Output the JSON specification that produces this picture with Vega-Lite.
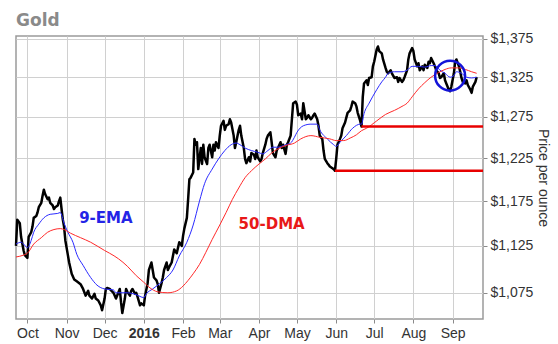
{
  "$schema": "https://vega.github.io/schema/vega-lite/v6.json",
  "width": 467,
  "height": 283,
  "autosize": {"type": "none"},
  "padding": {"left": 16, "top": 36, "right": 75, "bottom": 25},
  "background": "white",
  "title": {"text": "Gold", "anchor": "start", "fontSize": 17, "font": "DejaVu Sans", "fontWeight": "bold", "color": "#8a8a8a", "offset": 2, "dx": 2},
  "config": {
    "view": {"stroke": "#9a9a9a", "strokeWidth": 1.5},
    "axis": {"gridColor": "#d0d0d0", "gridWidth": 1, "domain": false, "tickColor": "#8a8a8a", "tickSize": 4, "labelFont": "Liberation Sans", "labelFontSize": 14, "labelColor": "#333333"}
  },
  "datasets": {
    "close": [
      {"d":"2015-09-22","p":1125},{"d":"2015-09-23","p":1154},{"d":"2015-09-25","p":1150},{"d":"2015-09-26","p":1135},{"d":"2015-09-28","p":1120},{"d":"2015-09-29","p":1115},
      {"d":"2015-10-01","p":1112},{"d":"2015-10-02","p":1135},{"d":"2015-10-04","p":1140},{"d":"2015-10-05","p":1146},{"d":"2015-10-06","p":1156},{"d":"2015-10-08","p":1158},{"d":"2015-10-09","p":1162},{"d":"2015-10-10","p":1168},{"d":"2015-10-12","p":1173},{"d":"2015-10-13","p":1181},{"d":"2015-10-14","p":1188},{"d":"2015-10-15","p":1183},{"d":"2015-10-17","p":1177},{"d":"2015-10-18","p":1179},{"d":"2015-10-19","p":1173},{"d":"2015-10-21","p":1170},{"d":"2015-10-22","p":1166},{"d":"2015-10-23","p":1168},{"d":"2015-10-25","p":1170},{"d":"2015-10-26","p":1175},{"d":"2015-10-27","p":1179},{"d":"2015-10-28","p":1166},{"d":"2015-10-29","p":1154},{"d":"2015-10-30","p":1146},{"d":"2015-10-31","p":1131},
      {"d":"2015-11-02","p":1115},{"d":"2015-11-03","p":1107},{"d":"2015-11-05","p":1095},{"d":"2015-11-07","p":1089},{"d":"2015-11-09","p":1087},{"d":"2015-11-12","p":1084},{"d":"2015-11-14","p":1079},{"d":"2015-11-16","p":1072},{"d":"2015-11-18","p":1077},{"d":"2015-11-19","p":1072},{"d":"2015-11-21","p":1069},{"d":"2015-11-23","p":1074},{"d":"2015-11-24","p":1069},{"d":"2015-11-26","p":1067},{"d":"2015-11-28","p":1062},{"d":"2015-11-29","p":1057},
      {"d":"2015-12-01","p":1069},{"d":"2015-12-02","p":1079},{"d":"2015-12-03","p":1080},{"d":"2015-12-05","p":1079},{"d":"2015-12-08","p":1075},{"d":"2015-12-10","p":1069},{"d":"2015-12-13","p":1079},{"d":"2015-12-14","p":1065},{"d":"2015-12-15","p":1054},{"d":"2015-12-17","p":1069},{"d":"2015-12-18","p":1079},{"d":"2015-12-19","p":1076},{"d":"2015-12-21","p":1072},{"d":"2015-12-22","p":1077},{"d":"2015-12-23","p":1079},{"d":"2015-12-25","p":1074},{"d":"2015-12-26","p":1075},{"d":"2015-12-27","p":1071},{"d":"2015-12-29","p":1062},{"d":"2015-12-30","p":1064},
      {"d":"2016-01-01","p":1062},{"d":"2016-01-02","p":1072},{"d":"2016-01-04","p":1085},{"d":"2016-01-05","p":1099},{"d":"2016-01-07","p":1107},{"d":"2016-01-08","p":1099},{"d":"2016-01-09","p":1091},{"d":"2016-01-11","p":1088},{"d":"2016-01-12","p":1084},{"d":"2016-01-13","p":1075},{"d":"2016-01-15","p":1085},{"d":"2016-01-16","p":1091},{"d":"2016-01-17","p":1099},{"d":"2016-01-19","p":1107},{"d":"2016-01-20","p":1099},{"d":"2016-01-21","p":1102},{"d":"2016-01-23","p":1107},{"d":"2016-01-24","p":1114},{"d":"2016-01-25","p":1121},{"d":"2016-01-27","p":1117},{"d":"2016-01-28","p":1123},{"d":"2016-01-29","p":1129},{"d":"2016-01-31","p":1125},
      {"d":"2016-02-01","p":1136},{"d":"2016-02-02","p":1144},{"d":"2016-02-04","p":1156},{"d":"2016-02-05","p":1177},{"d":"2016-02-06","p":1200},{"d":"2016-02-07","p":1202},{"d":"2016-02-09","p":1208},{"d":"2016-02-10","p":1248},{"d":"2016-02-11","p":1241},{"d":"2016-02-12","p":1244},{"d":"2016-02-13","p":1212},{"d":"2016-02-15","p":1237},{"d":"2016-02-16","p":1218},{"d":"2016-02-17","p":1241},{"d":"2016-02-18","p":1226},{"d":"2016-02-20","p":1218},{"d":"2016-02-21","p":1237},{"d":"2016-02-22","p":1241},{"d":"2016-02-24","p":1226},{"d":"2016-02-25","p":1241},{"d":"2016-02-26","p":1234},{"d":"2016-02-27","p":1244},{"d":"2016-02-29","p":1237},
      {"d":"2016-03-01","p":1252},{"d":"2016-03-02","p":1264},{"d":"2016-03-04","p":1270},{"d":"2016-03-05","p":1259},{"d":"2016-03-06","p":1264},{"d":"2016-03-08","p":1266},{"d":"2016-03-09","p":1272},{"d":"2016-03-10","p":1268},{"d":"2016-03-12","p":1252},{"d":"2016-03-13","p":1237},{"d":"2016-03-14","p":1244},{"d":"2016-03-16","p":1259},{"d":"2016-03-17","p":1264},{"d":"2016-03-18","p":1252},{"d":"2016-03-20","p":1237},{"d":"2016-03-21","p":1224},{"d":"2016-03-22","p":1219},{"d":"2016-03-24","p":1226},{"d":"2016-03-25","p":1221},{"d":"2016-03-26","p":1231},{"d":"2016-03-28","p":1229},{"d":"2016-03-29","p":1224},{"d":"2016-03-30","p":1234},{"d":"2016-03-31","p":1226},
      {"d":"2016-04-02","p":1221},{"d":"2016-04-03","p":1224},{"d":"2016-04-04","p":1231},{"d":"2016-04-06","p":1241},{"d":"2016-04-07","p":1248},{"d":"2016-04-08","p":1252},{"d":"2016-04-10","p":1256},{"d":"2016-04-11","p":1244},{"d":"2016-04-12","p":1231},{"d":"2016-04-14","p":1226},{"d":"2016-04-15","p":1234},{"d":"2016-04-16","p":1237},{"d":"2016-04-18","p":1244},{"d":"2016-04-19","p":1237},{"d":"2016-04-20","p":1241},{"d":"2016-04-22","p":1230},{"d":"2016-04-23","p":1241},{"d":"2016-04-24","p":1244},{"d":"2016-04-26","p":1252},{"d":"2016-04-27","p":1272},{"d":"2016-04-28","p":1292},{"d":"2016-04-30","p":1294},
      {"d":"2016-05-01","p":1290},{"d":"2016-05-02","p":1277},{"d":"2016-05-04","p":1279},{"d":"2016-05-05","p":1272},{"d":"2016-05-06","p":1292},{"d":"2016-05-08","p":1272},{"d":"2016-05-09","p":1274},{"d":"2016-05-10","p":1277},{"d":"2016-05-12","p":1272},{"d":"2016-05-13","p":1274},{"d":"2016-05-14","p":1277},{"d":"2016-05-15","p":1279},{"d":"2016-05-17","p":1272},{"d":"2016-05-18","p":1264},{"d":"2016-05-19","p":1252},{"d":"2016-05-21","p":1248},{"d":"2016-05-22","p":1234},{"d":"2016-05-23","p":1224},{"d":"2016-05-25","p":1219},{"d":"2016-05-26","p":1217},{"d":"2016-05-27","p":1215},{"d":"2016-05-29","p":1213},{"d":"2016-05-30","p":1212},{"d":"2016-05-31","p":1210},
      {"d":"2016-06-01","p":1224},{"d":"2016-06-02","p":1241},{"d":"2016-06-04","p":1248},{"d":"2016-06-05","p":1252},{"d":"2016-06-06","p":1261},{"d":"2016-06-08","p":1268},{"d":"2016-06-09","p":1274},{"d":"2016-06-10","p":1280},{"d":"2016-06-12","p":1283},{"d":"2016-06-13","p":1288},{"d":"2016-06-14","p":1294},{"d":"2016-06-16","p":1292},{"d":"2016-06-17","p":1288},{"d":"2016-06-18","p":1280},{"d":"2016-06-20","p":1270},{"d":"2016-06-21","p":1263},{"d":"2016-06-22","p":1300},{"d":"2016-06-23","p":1317},{"d":"2016-06-25","p":1321},{"d":"2016-06-26","p":1315},{"d":"2016-06-27","p":1324},{"d":"2016-06-29","p":1325},{"d":"2016-06-30","p":1339},
      {"d":"2016-07-01","p":1345},{"d":"2016-07-03","p":1361},{"d":"2016-07-04","p":1365},{"d":"2016-07-05","p":1359},{"d":"2016-07-07","p":1356},{"d":"2016-07-08","p":1348},{"d":"2016-07-10","p":1337},{"d":"2016-07-11","p":1332},{"d":"2016-07-12","p":1330},{"d":"2016-07-14","p":1334},{"d":"2016-07-15","p":1330},{"d":"2016-07-16","p":1327},{"d":"2016-07-17","p":1324},{"d":"2016-07-19","p":1325},{"d":"2016-07-20","p":1319},{"d":"2016-07-21","p":1324},{"d":"2016-07-23","p":1319},{"d":"2016-07-24","p":1321},{"d":"2016-07-25","p":1325},{"d":"2016-07-27","p":1334},{"d":"2016-07-28","p":1348},{"d":"2016-07-29","p":1356},{"d":"2016-07-31","p":1363},
      {"d":"2016-08-01","p":1359},{"d":"2016-08-02","p":1348},{"d":"2016-08-04","p":1339},{"d":"2016-08-05","p":1343},{"d":"2016-08-06","p":1334},{"d":"2016-08-08","p":1339},{"d":"2016-08-09","p":1334},{"d":"2016-08-10","p":1341},{"d":"2016-08-12","p":1337},{"d":"2016-08-13","p":1345},{"d":"2016-08-14","p":1343},{"d":"2016-08-15","p":1350},{"d":"2016-08-17","p":1343},{"d":"2016-08-18","p":1339},{"d":"2016-08-19","p":1334},{"d":"2016-08-21","p":1330},{"d":"2016-08-22","p":1324},{"d":"2016-08-23","p":1325},{"d":"2016-08-25","p":1330},{"d":"2016-08-26","p":1321},{"d":"2016-08-27","p":1317},{"d":"2016-08-29","p":1309},{"d":"2016-08-30","p":1307},{"d":"2016-08-31","p":1313},
      {"d":"2016-09-02","p":1330},{"d":"2016-09-03","p":1345},{"d":"2016-09-04","p":1348},{"d":"2016-09-06","p":1339},{"d":"2016-09-07","p":1332},{"d":"2016-09-08","p":1324},{"d":"2016-09-09","p":1319},{"d":"2016-09-11","p":1317},{"d":"2016-09-12","p":1321},{"d":"2016-09-13","p":1315},{"d":"2016-09-15","p":1309},{"d":"2016-09-16","p":1305},{"d":"2016-09-17","p":1313},{"d":"2016-09-19","p":1319},{"d":"2016-09-20","p":1325}
    ],
    "ema": [
      {"d":"2015-09-22","p":1127},{"d":"2015-09-26","p":1129},{"d":"2015-09-28","p":1127},{"d":"2015-10-01","p":1123},{"d":"2015-10-04","p":1131},{"d":"2015-10-06","p":1140},{"d":"2015-10-10","p":1149},{"d":"2015-10-14","p":1156},{"d":"2015-10-19","p":1160},{"d":"2015-10-25","p":1161},{"d":"2015-10-27","p":1162},{"d":"2015-10-30","p":1150},
      {"d":"2015-11-02","p":1140},{"d":"2015-11-06","p":1129},{"d":"2015-11-09","p":1116},{"d":"2015-11-14","p":1104},{"d":"2015-11-20","p":1091},{"d":"2015-11-25","p":1083},{"d":"2015-12-01","p":1079},{"d":"2015-12-08","p":1078},{"d":"2015-12-10","p":1075},{"d":"2015-12-19","p":1075},{"d":"2015-12-26","p":1073},
      {"d":"2016-01-01","p":1070},{"d":"2016-01-03","p":1074},{"d":"2016-01-08","p":1079},{"d":"2016-01-13","p":1084},{"d":"2016-01-19","p":1091},{"d":"2016-01-24","p":1099},{"d":"2016-01-29","p":1114},{"d":"2016-02-04","p":1129},{"d":"2016-02-09","p":1148},{"d":"2016-02-14","p":1175},{"d":"2016-02-18","p":1195},{"d":"2016-02-24","p":1212},{"d":"2016-02-29","p":1224},
      {"d":"2016-03-05","p":1234},{"d":"2016-03-10","p":1241},{"d":"2016-03-14","p":1243},{"d":"2016-03-17","p":1241},{"d":"2016-03-21","p":1237},{"d":"2016-03-26","p":1234},{"d":"2016-03-31","p":1232},{"d":"2016-04-04","p":1230},{"d":"2016-04-08","p":1234},{"d":"2016-04-12","p":1238},{"d":"2016-04-16","p":1238},{"d":"2016-04-22","p":1241},{"d":"2016-04-26","p":1243},{"d":"2016-04-29","p":1250},
      {"d":"2016-05-01","p":1256},{"d":"2016-05-06","p":1264},{"d":"2016-05-12","p":1266},{"d":"2016-05-17","p":1266},{"d":"2016-05-19","p":1259},{"d":"2016-05-25","p":1248},{"d":"2016-05-30","p":1241},{"d":"2016-06-01","p":1239},{"d":"2016-06-04","p":1244},{"d":"2016-06-09","p":1252},{"d":"2016-06-14","p":1261},{"d":"2016-06-20","p":1266},{"d":"2016-06-21","p":1266},{"d":"2016-06-23","p":1279},{"d":"2016-06-27","p":1292},
      {"d":"2016-07-03","p":1309},{"d":"2016-07-07","p":1319},{"d":"2016-07-10","p":1325},{"d":"2016-07-12","p":1330},{"d":"2016-07-17","p":1332},{"d":"2016-07-23","p":1332},{"d":"2016-07-27","p":1334},{"d":"2016-07-31","p":1339},{"d":"2016-08-05","p":1339},{"d":"2016-08-10","p":1338},{"d":"2016-08-15","p":1340},{"d":"2016-08-18","p":1340},{"d":"2016-08-22","p":1334},{"d":"2016-08-26","p":1330},{"d":"2016-08-30","p":1325},{"d":"2016-09-02","p":1327},{"d":"2016-09-04","p":1332},{"d":"2016-09-08","p":1330},{"d":"2016-09-12","p":1325},{"d":"2016-09-16","p":1324},{"d":"2016-09-20","p":1325}
    ],
    "dma": [
      {"d":"2015-09-22","p":1113},{"d":"2015-09-28","p":1115},{"d":"2015-10-01","p":1117},{"d":"2015-10-06","p":1127},{"d":"2015-10-12","p":1134},{"d":"2015-10-17","p":1140},{"d":"2015-10-22","p":1143},{"d":"2015-10-27","p":1144},{"d":"2015-10-30","p":1143},
      {"d":"2015-11-04","p":1139},{"d":"2015-11-12","p":1134},{"d":"2015-11-20","p":1129},{"d":"2015-11-25","p":1125},{"d":"2015-12-01","p":1120},{"d":"2015-12-05","p":1117},{"d":"2015-12-12","p":1111},{"d":"2015-12-19","p":1103},{"d":"2015-12-26","p":1093},
      {"d":"2016-01-01","p":1086},{"d":"2016-01-05","p":1081},{"d":"2016-01-12","p":1076},{"d":"2016-01-20","p":1075},{"d":"2016-01-27","p":1077},{"d":"2016-02-01","p":1082},{"d":"2016-02-05","p":1088},{"d":"2016-02-09","p":1095},{"d":"2016-02-14","p":1105},{"d":"2016-02-19","p":1118},{"d":"2016-02-24","p":1132},
      {"d":"2016-03-01","p":1148},{"d":"2016-03-06","p":1162},{"d":"2016-03-11","p":1177},{"d":"2016-03-16","p":1190},{"d":"2016-03-21","p":1202},{"d":"2016-03-26","p":1210},{"d":"2016-04-01","p":1218},{"d":"2016-04-06","p":1224},{"d":"2016-04-11","p":1231},{"d":"2016-04-16","p":1236},{"d":"2016-04-22","p":1240},{"d":"2016-04-29","p":1243},
      {"d":"2016-05-04","p":1248},{"d":"2016-05-12","p":1252},{"d":"2016-05-19","p":1250},{"d":"2016-05-27","p":1248},{"d":"2016-06-01","p":1246},{"d":"2016-06-07","p":1246},{"d":"2016-06-12","p":1249},{"d":"2016-06-17","p":1253},{"d":"2016-06-21","p":1258},{"d":"2016-06-25","p":1261},
      {"d":"2016-07-03","p":1270},{"d":"2016-07-10","p":1278},{"d":"2016-07-17","p":1283},{"d":"2016-07-23","p":1288},{"d":"2016-07-27","p":1292},{"d":"2016-07-31","p":1300},{"d":"2016-08-05","p":1310},{"d":"2016-08-10","p":1318},{"d":"2016-08-15","p":1325},{"d":"2016-08-21","p":1331},{"d":"2016-08-26","p":1335},{"d":"2016-08-31","p":1337},{"d":"2016-09-06","p":1337},{"d":"2016-09-11","p":1335},{"d":"2016-09-16","p":1332},{"d":"2016-09-20","p":1330}
    ],
    "levels": [
      {"d":"2016-06-21","d2":"2016-09-25","p":1263},
      {"d":"2016-05-31","d2":"2016-09-25","p":1210}
    ],
    "mark": [{"d":"2016-08-30","p":1327}],
    "emaLabel": [{"d":"2015-12-02","p":1156,"label":"9-EMA"}],
    "dmaLabel": [{"d":"2016-04-11","p":1149,"label":"50-DMA"}]
  },
  "encoding": {
    "x": {
      "field": "d", "type": "temporal",
      "scale": {"type": "utc", "domain": [{"year":2015,"month":9,"date":22,"utc":true},{"year":2016,"month":9,"date":25,"utc":true}]},
      "axis": {
        "title": null,
        "values": [
          {"year":2015,"month":10,"date":1,"utc":true},{"year":2015,"month":11,"date":1,"utc":true},{"year":2015,"month":12,"date":1,"utc":true},
          {"year":2016,"month":1,"date":1,"utc":true},{"year":2016,"month":2,"date":1,"utc":true},{"year":2016,"month":3,"date":1,"utc":true},
          {"year":2016,"month":4,"date":1,"utc":true},{"year":2016,"month":5,"date":1,"utc":true},{"year":2016,"month":6,"date":1,"utc":true},
          {"year":2016,"month":7,"date":1,"utc":true},{"year":2016,"month":8,"date":1,"utc":true},{"year":2016,"month":9,"date":1,"utc":true}
        ],
        "labelExpr": "utcmonth(datum.value) == 0 ? utcFormat(datum.value, '%Y') : utcFormat(datum.value, '%b')",
        "labelFontWeight": {"condition": {"test": "utcmonth(datum.value) == 0", "value": "bold"}, "value": "normal"},
        "labelPadding": 3,
        "labelFlush": false,
        "labelOverlap": false,
        "grid": true
      }
    },
    "y": {
      "field": "p", "type": "quantitative",
      "scale": {"type": "log", "domain": [1048, 1379], "nice": false, "zero": false},
      "axis": {
        "orient": "right",
        "values": [1075, 1125, 1175, 1225, 1275, 1325, 1375],
        "format": "$,.0f",
        "grid": true,
        "labelPadding": 3,
        "title": "Price per ounce",
        "titleFont": "Liberation Sans",
        "titleFontSize": 14,
        "titleFontWeight": "normal",
        "titleColor": "#333333",
        "titlePadding": 3
      }
    }
  },
  "layer": [
    {"data": {"name": "close"}, "mark": {"type": "line", "color": "#000000", "strokeWidth": 2.5, "strokeJoin": "round"}},
    {"data": {"name": "ema"}, "mark": {"type": "line", "color": "#2a2aff", "strokeWidth": 1, "interpolate": "monotone"}},
    {"data": {"name": "dma"}, "mark": {"type": "line", "color": "#ff2a2a", "strokeWidth": 1, "interpolate": "monotone"}},
    {"data": {"name": "levels"}, "mark": {"type": "rule", "color": "#e80000", "strokeWidth": 2.5}, "encoding": {"x2": {"field": "d2"}}},
    {"data": {"name": "mark"}, "mark": {"type": "point", "shape": "circle", "filled": false, "size": 900, "stroke": "#1414d8", "strokeWidth": 2.5, "opacity": 1}},
    {"data": {"name": "emaLabel"}, "mark": {"type": "text", "color": "#2424e6", "font": "DejaVu Sans", "fontWeight": "bold", "fontSize": 15, "align": "center", "baseline": "middle"}, "encoding": {"text": {"field": "label"}}},
    {"data": {"name": "dmaLabel"}, "mark": {"type": "text", "color": "#e81818", "font": "DejaVu Sans", "fontWeight": "bold", "fontSize": 15, "align": "center", "baseline": "middle"}, "encoding": {"text": {"field": "label"}}}
  ]
}
